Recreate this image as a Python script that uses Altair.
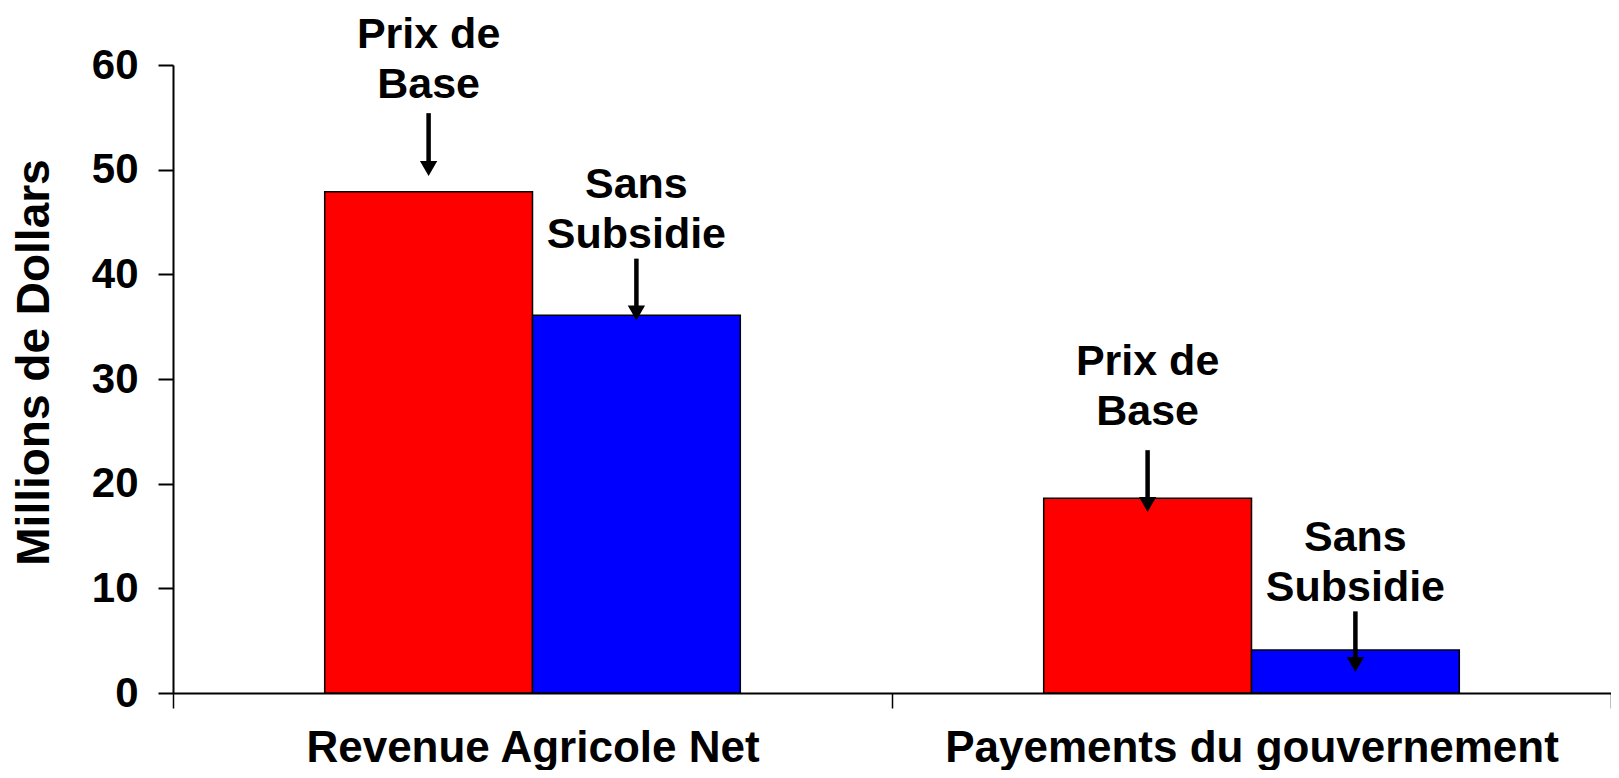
import altair as alt
import pandas as pd

# ---- data ----
categories = ["Revenue Agricole Net", "Payements du gouvernement"]
series_names = ["Prix de Base", "Sans Subsidie"]
prix_de_base = [47.9, 18.6]
sans_subsidie = [36.1, 4.1]

# annotation labels (one per bar, in order: cat1 prix, cat1 sans, cat2 prix, cat2 sans)
note_lines = [["Prix de", "Base"], ["Sans", "Subsidie"], ["Prix de", "Base"], ["Sans", "Subsidie"]]
note_text_y = [62.9, 48.5, 31.6, 14.8]
arrow_top = [55.4, 41.5, 23.2, 7.8]
arrow_tip = [49.4, 35.6, 17.3, 2.0]

rows = []
i = 0
for ci, cat in enumerate(categories):
    for s, vals in zip(series_names, [prix_de_base, sans_subsidie]):
        rows.append({
            "category": cat,
            "series": s,
            "value": vals[ci],
            "lines": note_lines[i],
            "text_y": note_text_y[i],
            "arrow_top": arrow_top[i],
            "arrow_tip": arrow_tip[i],
        })
        i += 1
df = pd.DataFrame(rows)

FONT = "Liberation Sans"
Y_TITLE = "Millions de Dollars"

x_enc = alt.X(
    "category:N",
    sort=categories,
    scale=alt.Scale(paddingInner=0, paddingOuter=0),
    axis=alt.Axis(
        title=None,
        labelAngle=0,
        labelLimit=0,
        tickBand="extent",
        tickSize=15,
        tickWidth=1.5,
        tickColor="black",
        domainColor="black",
        domainWidth=2,
        labelFont=FONT,
        labelFontWeight="bold",
        labelFontSize=44,
        labelColor="black",
        labelPadding=18,
        grid=False,
    ),
)
xo_enc = alt.XOffset(
    "series:N", sort=series_names, scale=alt.Scale(paddingInner=0, paddingOuter=0.73)
)


def y_enc(field):
    return alt.Y(
        field,
        scale=alt.Scale(domain=[0, 60], nice=False),
        axis=alt.Axis(
            title=Y_TITLE,
            values=[0, 10, 20, 30, 40, 50, 60],
            tickSize=15,
            tickWidth=2,
            tickColor="black",
            domainColor="black",
            domainWidth=2,
            labelFont=FONT,
            labelFontWeight="bold",
            labelFontSize=42,
            labelColor="black",
            labelPadding=20,
            grid=False,
            titleFont=FONT,
            titleFontWeight="bold",
            titleFontSize=46,
            titleColor="black",
            titleX=-139,
            titleY=297,
            titleAlign="center",
            titleBaseline="middle",
        ),
    )


base = alt.Chart(df)

bars = base.mark_bar(stroke="black", strokeWidth=1.5).encode(
    x=x_enc,
    xOffset=xo_enc,
    y=y_enc("value:Q"),
    color=alt.Color(
        "series:N",
        scale=alt.Scale(domain=series_names, range=["#FF0000", "#0000FF"]),
        legend=None,
    ),
)

shafts = base.mark_rule(color="black", strokeWidth=4.5, y2Offset=-8).encode(
    x=x_enc,
    xOffset=xo_enc,
    y=y_enc("arrow_top:Q"),
    y2="arrow_tip:Q",
)

heads = base.mark_point(
    shape="triangle-down", filled=True, size=300, color="black", opacity=1, yOffset=-7.5
).encode(
    x=x_enc,
    xOffset=xo_enc,
    y=y_enc("arrow_tip:Q"),
)

notes = base.mark_text(
    font=FONT,
    fontWeight="bold",
    fontSize=43,
    lineHeight=50,
    align="center",
    baseline="middle",
    color="black",
).encode(
    x=x_enc,
    xOffset=xo_enc,
    y=y_enc("text_y:Q"),
    text="lines",
)

chart = (
    alt.layer(bars, shafts, heads, notes)
    .properties(
        width=1438,
        height=628,
        autosize=alt.AutoSizeParams(type="none"),
        padding={"left": 165, "top": 57, "right": 0, "bottom": 77},
    )
    .configure_view(stroke=None)
)

chart.save("out.html", embed_options={"renderer": "svg", "actions": False})
